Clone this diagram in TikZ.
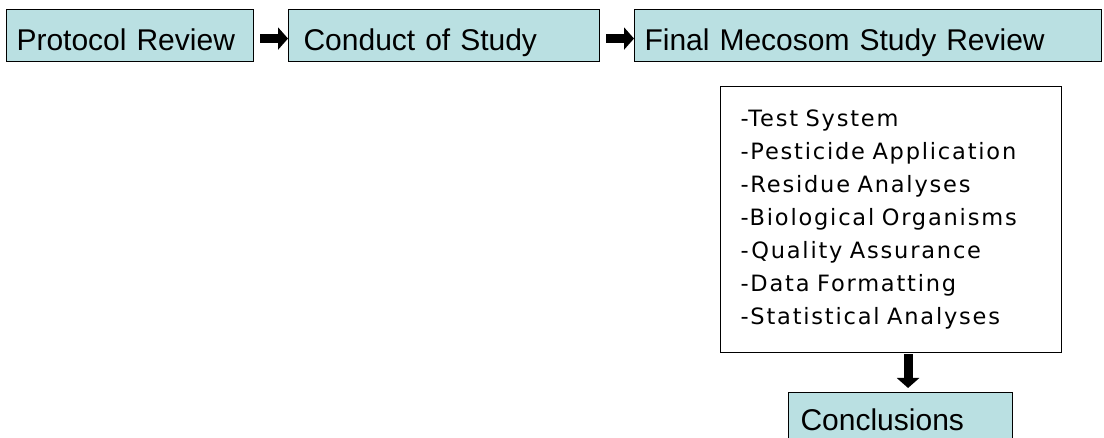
\documentclass[tikz,border=0pt]{standalone}
\usepackage{fontspec}
\setmainfont{Liberation Sans}
\newfontfamily\listfont[LetterSpace=8]{DejaVu Sans}
\usetikzlibrary{arrows.meta}
\definecolor{boxfill}{RGB}{186,224,226}
\begin{document}
\begin{tikzpicture}[x=1pt,y=-1pt,
  tbox/.style={draw=black, line width=1.1pt, fill=boxfill, anchor=north west,
    inner ysep=0pt, text height=41pt, text depth=11pt, minimum height=52pt,
    align=left, font=\fontsize{30}{36}\selectfont},
  listbox/.style={draw=black, line width=1.1pt, fill=white, anchor=north west,
    inner ysep=0pt, inner xsep=20pt, text width=301pt, minimum height=266pt,
    align=left, font=\listfont\fontsize{22.5}{33}\selectfont},
  blkarrow/.style={line width=9pt, -{Triangle[length=10pt,width=22pt]}}]
\useasboundingbox (0,0) rectangle (1104,438);
\node[tbox, inner xsep=10pt, text width=227pt] (p) at (6,9) {Protocol Review};
\node[tbox, inner xsep=15pt, text width=281pt] (c) at (288,9) {Conduct of Study};
\node[tbox, inner xsep=10pt, text width=447pt] (f) at (634,9) {Final Mecosom Study Review};
\node[listbox] (l) at (720,86) {-Test System\\-Pesticide Application\\-Residue Analyses\\-Biological Organisms\\-Quality Assurance\\-Data Formatting\\-Statistical Analyses};
\node[tbox, inner xsep=12pt, text width=200pt, text height=38pt, text depth=14pt] (cn) at (788,392) {Conclusions};
\draw[blkarrow] ([xshift=6pt,yshift=-3pt]p.east) -- ([yshift=-3pt]c.west);
\draw[blkarrow] ([xshift=6pt,yshift=-3pt]c.east) -- ([yshift=-3pt]f.west);
\draw[blkarrow, shorten >=4pt] ([xshift=17pt,yshift=-1pt]l.south) -- ([xshift=17pt]l.south |- cn.north);
\end{tikzpicture}
\end{document}
